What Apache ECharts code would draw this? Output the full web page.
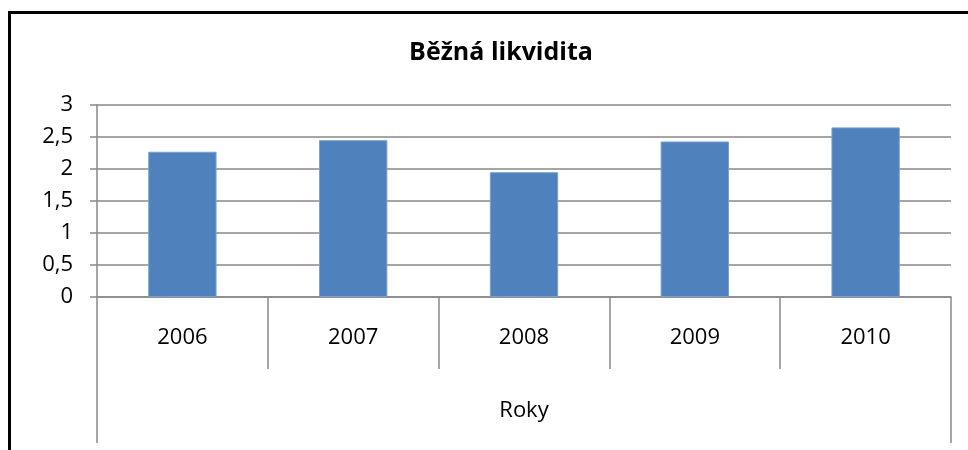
<!DOCTYPE html>
<html>
<head>
<meta charset="utf-8">
<script src="https://cdn.jsdelivr.net/npm/echarts@6/dist/echarts.min.js"></script>
<style>
html,body{margin:0;padding:0;background:#fff;}
#chart{width:968px;height:450px;}
</style>
</head>
<body>
<div id="chart"></div>
<script>
const titleText = 'Běžná likvidita';
const categories = ['2006', '2007', '2008', '2009', '2010'];
const values = [2.27, 2.45, 1.95, 2.43, 2.65];
const outerCategory = ['Roky'];
const yMin = 0, yMax = 3, yStep = 0.5;

const FONT = 'Open Sans';
const gridColor = '#898989';
const chart = echarts.init(document.getElementById('chart'));
chart.setOption({
  animation: false,
  backgroundColor: '#fff',
  title: {
    text: titleText,
    left: 496, top: 35, textAlign: 'center',
    textStyle: {fontFamily: FONT, fontWeight: 'bold', fontSize: 25, color: '#000'}
  },
  graphic: [{
    type: 'rect', silent: true, z: 100,
    shape: {x: 9.5, y: 12.5, width: 1000, height: 500},
    style: {fill: 'none', stroke: '#000', lineWidth: 3}
  }],
  grid: {left: 97, right: 17, top: 105, bottom: 153, containLabel: false},
  xAxis: [{
    type: 'category', data: categories, position: 'bottom',
    boundaryGap: true,
    axisLine: {show: true, lineStyle: {color: gridColor, width: 1.5}},
    axisTick: {show: true, length: 72, lineStyle: {color: gridColor, width: 1.5}},
    axisLabel: {margin: 30, fontFamily: FONT, fontSize: 22, color: '#000'}
  }, {
    type: 'category', data: outerCategory, position: 'bottom', offset: 0,
    boundaryGap: true,
    axisLine: {show: false},
    axisTick: {show: true, length: 146, lineStyle: {color: gridColor, width: 1.5}},
    axisLabel: {margin: 103, fontFamily: FONT, fontSize: 22, color: '#000'}
  }],
  yAxis: {
    type: 'value', min: yMin, max: yMax, interval: yStep,
    axisLine: {show: true, lineStyle: {color: gridColor, width: 1.5}},
    axisTick: {show: true, length: 7, lineStyle: {color: gridColor, width: 1.5}},
    splitLine: {show: true, lineStyle: {color: gridColor, width: 1.5}},
    axisLabel: {
      margin: 24, fontFamily: FONT, fontSize: 22, color: '#000',
      formatter: v => String(v).replace('.', ',')
    }
  },
  series: [{
    type: 'bar', data: values, xAxisIndex: 0, barWidth: '40%',
    itemStyle: {color: '#4f81bd', borderColor: '#7a9fd0', borderWidth: 1}
  }]
});
</script>
</body>
</html>
